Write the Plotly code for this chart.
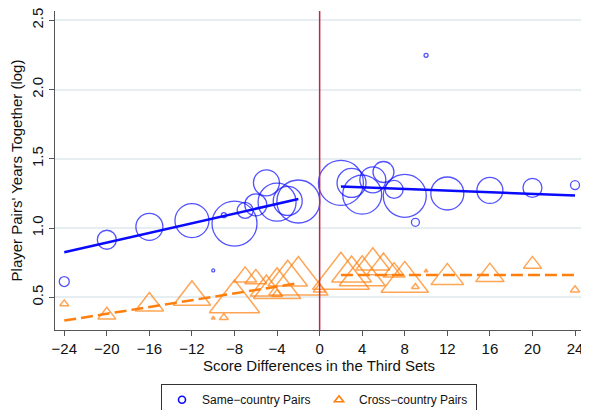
import plotly.graph_objects as go

# ---- data ----
same_x = [-24, -20, -16, -12, -10, -9, -8, -7, -6, -5, -4, -3, -2,
          2, 3, 4, 5, 6, 7, 8, 9, 10, 12, 16, 20, 24]
same_y = [0.614, 0.916, 1.009, 1.054, 0.694, 1.093, 1.033, 1.128, 1.168, 1.327, 1.187, 1.196, 1.192,
          1.326, 1.326, 1.242, 1.349, 1.405, 1.279, 1.233, 1.042, 2.248, 1.250, 1.272, 1.291, 1.311]
same_w = [10, 19, 27, 34, 3, 5, 45, 16, 22, 26, 38, 29, 43,
          45, 29, 39, 26, 21, 18, 43, 8, 4, 33, 26, 19, 9]

cross_x = [-24, -20, -16, -12, -10, -9, -8, -7, -6, -5, -4, -4, -3, -2, 0,
           2, 3, 4, 5, 6, 7, 8, 9, 10, 12, 16, 20, 24]
cross_y = [0.453, 0.371, 0.446, 0.502, 0.350, 0.354, 0.468, 0.647, 0.633, 0.560, 0.565, 0.522, 0.644, 0.609, 0.558,
           0.647, 0.673, 0.656, 0.751, 0.715, 0.682, 0.611, 0.576, 0.690, 0.643, 0.658, 0.739, 0.554]
cross_w = [7, 14, 22, 29, 3, 7, 39, 18, 17, 25, 36.6, 8.3, 30.7, 46, 10,
           44, 31, 35.7, 26.3, 26, 17, 36.7, 6, 3, 25.3, 22, 14, 7.3]

fit_same_left_x = [-24, -2]
fit_same_left_y = [0.825, 1.21]
fit_same_right_x = [2, 24]
fit_same_right_y = [1.30, 1.236]
fit_cross_left_x = [-24, -2]
fit_cross_left_y = [0.332, 0.602]
fit_cross_right_x = [2, 24]
fit_cross_right_y = [0.661, 0.661]

x_ticks = list(range(-24, 25, 4))
y_ticks = [0.5, 1.0, 1.5, 2.0, 2.5]

BLUE = "#0a0aff"
ORANGE = "#ff7f0e"
FONT = "Liberation Sans"

fig = go.Figure()

fig.add_trace(go.Scatter(
    x=same_x, y=same_y, mode="markers", showlegend=False,
    marker=dict(symbol="circle-open", size=[w * 1.0 for w in same_w],
                color=BLUE, line=dict(color=BLUE, width=1.3)),
))
fig.add_trace(go.Scatter(
    x=cross_x, y=cross_y, mode="markers", showlegend=False,
    marker=dict(symbol="triangle-up-open", size=[w * 1.12 for w in cross_w],
                color=ORANGE, line=dict(color=ORANGE, width=1.5)),
))

for xs, ys in [(fit_same_left_x, fit_same_left_y), (fit_same_right_x, fit_same_right_y)]:
    fig.add_trace(go.Scatter(x=xs, y=ys, mode="lines", showlegend=False,
                             line=dict(color=BLUE, width=2.5)))
for xs, ys in [(fit_cross_left_x, fit_cross_left_y), (fit_cross_right_x, fit_cross_right_y)]:
    fig.add_trace(go.Scatter(x=xs, y=ys, mode="lines", showlegend=False,
                             line=dict(color=ORANGE, width=2.5, dash="12px,5px")))

# legend entries
fig.add_trace(go.Scatter(x=[None], y=[None], mode="markers", name="Same\u2212country Pairs",
                         marker=dict(symbol="circle-open", size=7, color=BLUE,
                                     line=dict(color=BLUE, width=1.6))))
fig.add_trace(go.Scatter(x=[None], y=[None], mode="markers", name="Cross\u2212country Pairs",
                         marker=dict(symbol="triangle-up-open", size=8, color=ORANGE,
                                     line=dict(color=ORANGE, width=1.6))))

fig.add_vline(x=0, line=dict(color="#c0283f", width=1.5), layer="above")

fig.update_layout(
    width=589, height=410,
    margin=dict(l=47, r=14, t=3, b=79),
    paper_bgcolor="white", plot_bgcolor="white",
    font=dict(family=FONT, size=15, color="#111111"),
    showlegend=True,
    legend=dict(orientation="h", x=0.5, xanchor="center", y=-0.17, yanchor="top",
                bordercolor="#333333", borderwidth=1, font=dict(size=12, family=FONT),
                bgcolor="white", itemwidth=30, entrywidth=112),
    xaxis=dict(
        range=[-24.87, 24.75], tickvals=x_ticks, showgrid=False, zeroline=False,
        showline=True, linecolor="#555555", linewidth=1.2,
        ticks="outside", ticklen=5, tickcolor="#555555",
        tickfont=dict(size=15, family=FONT),
        title=dict(text="Score Differences in the Third Sets", standoff=3,
                   font=dict(size=15, family=FONT)),
        automargin=False,
    ),
    yaxis=dict(
        range=[0.264, 2.568], tickvals=y_ticks, tickformat=".1f", tickangle=-90,
        ticklabeloverflow="allow",
        showgrid=True, gridcolor="#e6eef1", gridwidth=1.5, zeroline=False,
        showline=True, linecolor="#555555", linewidth=1.2,
        ticks="outside", ticklen=5, tickcolor="#555555",
        tickfont=dict(size=15, family=FONT),
        title=dict(text="Player Pairs' Years Together (log)", standoff=4,
                   font=dict(size=15, family=FONT)),
        automargin=False,
    ),
)

fig.write_html("out.html")
